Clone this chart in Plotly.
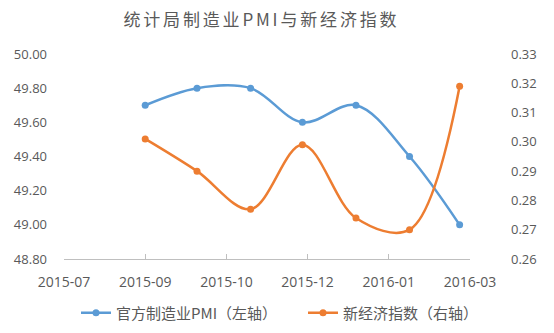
import datetime as dt
import plotly.graph_objects as go

# Monthly observations (plotted at the first day of the following month)
obs_dates = ["2015-09-01", "2015-10-01", "2015-11-01", "2015-12-01",
             "2016-01-01", "2016-02-01", "2016-03-01"]
pmi_values = [49.7, 49.8, 49.8, 49.6, 49.7, 49.4, 49.0]
nei_values = [0.301, 0.290, 0.277, 0.299, 0.274, 0.270, 0.319]

# Date axis: ticks every 47 days starting mid-July 2015
tick_start = dt.date(2015, 7, 16)
tick_step_days = 47
tick_count = 6
tick_dates = [tick_start + dt.timedelta(days=tick_step_days * k) for k in range(tick_count)]

series_names = ["官方制造业PMI（左轴）", "新经济指数（右轴）"]
title_text = "统计局制造业PMI与新经济指数"

BLUE = "#5B9BD5"
ORANGE = "#ED7D31"
GRAY = "#595959"
AXIS = "#BFBFBF"
FONT = "Noto Sans CJK SC, Open Sans, sans-serif"

fig = go.Figure()
fig.add_trace(go.Scatter(
    x=obs_dates, y=pmi_values, name=series_names[0], yaxis="y", legend="legend",
    mode="lines+markers", line=dict(color=BLUE, width=2.5, shape="spline", smoothing=1),
    marker=dict(color=BLUE, size=7),
))
fig.add_trace(go.Scatter(
    x=obs_dates, y=nei_values, name=series_names[1], yaxis="y2", legend="legend2",
    mode="lines+markers", line=dict(color=ORANGE, width=2.5, shape="spline", smoothing=1),
    marker=dict(color=ORANGE, size=7),
))

# slightly letter-spaced title
spaced_title = "\u2006".join(title_text)

legend_style = dict(
    orientation="h", xanchor="left", y=-54 / 205, yanchor="middle",
    font=dict(size=15, color=GRAY, family=FONT),
    itemwidth=30, bgcolor="rgba(0,0,0,0)",
)

fig.update_layout(
    width=554, height=333,
    margin=dict(l=64, r=84, t=54, b=74, autoexpand=False),
    paper_bgcolor="white", plot_bgcolor="white",
    font=dict(family=FONT, color=GRAY, size=13),
    title=dict(text=spaced_title, x=260 / 554, xanchor="center",
               y=1 - 20 / 333, yanchor="middle", yref="container",
               font=dict(size=17, color=GRAY, family=FONT)),
    xaxis=dict(
        type="date",
        range=[tick_dates[0], tick_dates[-1]],
        tickmode="array", tickvals=tick_dates, tickformat="%Y-%m",
        showgrid=False, zeroline=False,
        showline=True, linecolor=AXIS, linewidth=1,
        ticks="inside", ticklen=5, tickcolor=AXIS,
        tickfont=dict(size=14, color=GRAY, family="Open Sans"),
        ticklabelstandoff=10,
    ),
    yaxis=dict(
        range=[48.8, 50.0], dtick=0.2, tick0=48.8, tickformat=".2f",
        showgrid=False, zeroline=False, showline=False,
        tickfont=dict(size=13, color=GRAY, family="Open Sans"),
        ticklabelstandoff=16,
    ),
    yaxis2=dict(
        range=[0.26, 0.33], dtick=0.01, tick0=0.26, tickformat=".2f",
        overlaying="y", side="right",
        showgrid=False, zeroline=False, showline=False,
        tickfont=dict(size=13, color=GRAY, family="Open Sans"),
        ticklabelstandoff=40,
    ),
    showlegend=True,
    legend=dict(x=(76 - 64) / 406, **legend_style),
    legend2=dict(x=(303 - 64) / 406, **legend_style),
)

fig.write_html("out.html")
